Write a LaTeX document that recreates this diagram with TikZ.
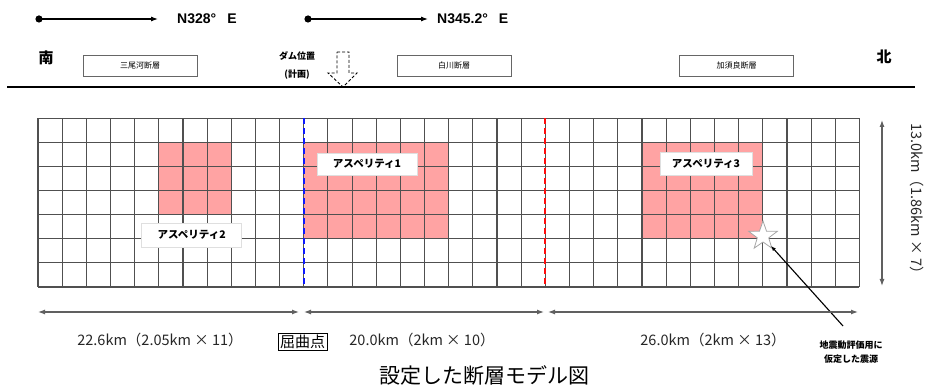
\documentclass[tikz,border=0pt]{standalone}
\usepackage{fontspec}
\setmainfont{Liberation Sans}
\newfontfamily\jp{Noto Sans CJK JP}
\usetikzlibrary{shapes.geometric,arrows.meta}
\definecolor{asppink}{HTML}{FFA3A3}
\definecolor{gridc}{HTML}{505050}
\definecolor{dimc}{HTML}{606060}
\definecolor{dashred}{rgb}{1,0.05,0.05}
\definecolor{dashblue}{rgb}{0.05,0.1,1}
\begin{document}
\begin{tikzpicture}[x=1pt,y=-1pt,
  gridline/.style={draw=gridc,line width=1.1pt},
  aspfill/.style={fill=asppink},
  asplabel/.style={fill=white,draw=gray!25,line width=0.6pt,font=\jp\bfseries\fontsize{10.5}{12}\selectfont,inner sep=0pt},
  faultbox/.style={draw=gray!80!black,line width=0.8pt,minimum width=114pt,minimum height=21pt,inner sep=0pt,font=\jp\fontsize{8}{9}\selectfont},
  dimline/.style={draw=dimc,line width=1.2pt,{Latex[length=7pt,width=5pt]}-{Latex[length=7pt,width=5pt]}},
  dirarrow/.style={draw=black,line width=1.1pt,-{Latex[length=7pt,width=5pt]}},
  dimtext/.style={font=\jp\fontsize{14.5}{16}\selectfont,text=black!85,inner sep=0pt},
  kinkline/.style={line width=2pt,dash pattern=on 6pt off 4pt},
  plain/.style={inner sep=0pt}]
\useasboundingbox (0,0) rectangle (926,387);

% direction arrows
\fill (39,19) circle (3.6pt);
\coordinate (d1s) at (39,19);
\node[plain,anchor=west,font=\bfseries\fontsize{14}{16}\selectfont] (d1t) at (177,19) {N328°\hspace{11pt}E};
\coordinate (d1e) at (158,19);
\draw[dirarrow] (d1s) -- (d1e);
\fill (308,19) circle (3.6pt);
\coordinate (d2s) at (308,19);
\node[plain,anchor=west,font=\bfseries\fontsize{14}{16}\selectfont] (d2t) at (437,19) {N345.2°\hspace{11pt}E};
\coordinate (d2e) at (428,19);
\draw[dirarrow] (d2s) -- (d2e);

% south / north
\node[plain,font=\jp\bfseries\fontsize{15}{16}\selectfont] (south) at (46,58) {南};
\node[plain,font=\jp\bfseries\fontsize{15}{16}\selectfont] (north) at (884,57) {北};

% fault name boxes
\node[faultbox] (f1) at (140,65.5) {三尾河断層};
\node[faultbox] (f2) at (454,65.5) {白川断層};
\node[faultbox] (f3) at (736.5,65.5) {加須良断層};

% dam
\node[plain,font=\jp\bfseries\fontsize{9}{10}\selectfont] (dam1) at (297,56) {ダム位置};
\node[plain,font=\jp\bfseries\fontsize{9}{10}\selectfont] (dam2) at (297,75) {(計画)};
\draw[line width=0.9pt,dash pattern=on 3pt off 2pt] (337,52) -- (349,52) -- (349,73) -- (357,73) -- (343,87) -- (328,73) -- (337,73) -- cycle;

% ground line
\draw[line width=1.6pt] (7,87) -- (915,87);

% grid
\begin{scope}[shift={(38,118.5)},x=24.16pt,y=-24.07pt]
  \fill[aspfill] (5,1) rectangle (8,4);
  \fill[aspfill] (11,1) rectangle (17,5);
  \fill[aspfill] (25,1) rectangle (30,5);
  \foreach \i in {0,...,34} {\draw[gridline] (\i,0) -- (\i,7);}
  \foreach \j in {0,...,7} {\draw[gridline] (0,\j) -- (34,\j);}
\end{scope}
\coordinate (bt) at (303.8,118.5);
\coordinate (bb) at (303.8,287);
\coordinate (rt) at (545.4,118.5);
\coordinate (rb) at (545.4,287);
\draw[kinkline,draw=dashblue] (bt) -- (bb);
\draw[kinkline,draw=dashred] (rt) -- (rb);

% asperity labels
\node[asplabel,minimum width=100pt,minimum height=24pt] (a2) at (191.7,235) {アスペリティ2};
\node[asplabel,minimum width=100pt,minimum height=22pt] (a1) at (367,164) {アスペリティ1};
\node[asplabel,minimum width=92pt,minimum height=23pt] (a3) at (706,163.5) {アスペリティ3};

% star (hypocenter)
\node[star,star points=5,star point ratio=2.5,minimum size=30pt,inner sep=0pt,draw=gray!70,line width=0.8pt,fill=white] (hypo) at (763,236) {};
\node[plain,align=center,font=\jp\bfseries\fontsize{9}{14}\selectfont] (ann) at (851,352) {地震動評価用に\\仮定した震源};
\coordinate (annp) at (843,326);
\coordinate (annq) at (771,246);
\draw[line width=1.1pt,-{Latex[length=5pt,width=4pt]}] (annp) -- (annq);

% vertical dimension
\coordinate (v1) at (882,120);
\coordinate (v2) at (882,286);
\draw[dimline] (v1) -- (v2);
\node[dimtext,rotate=-90] (vt) at (917,202) {13.0km（1.86km × 7）};

% horizontal dimensions
\coordinate (h1a) at (38,312);
\coordinate (h1b) at (299,312);
\coordinate (h2a) at (304,312);
\coordinate (h2b) at (544,312);
\coordinate (h3a) at (548,312);
\coordinate (h3b) at (858,312);
\draw[dimline] (h1a) -- (h1b);
\draw[dimline] (h2a) -- (h2b);
\draw[dimline] (h3a) -- (h3b);
\node[dimtext] (l1) at (160,340) {22.6km（2.05km × 11）};
\node[dimtext] (l2) at (422,340) {20.0km（2km × 10）};
\node[dimtext] (l3) at (713,340) {26.0km（2km × 13）};
\node[draw,line width=1pt,inner sep=2pt,font=\jp\fontsize{15}{16}\selectfont] (kink) at (302.5,342) {屈曲点};

% title
\node[plain,font=\jp\fontsize{21}{24}\selectfont] (title) at (484,375) {設定した断層モデル図};
\end{tikzpicture}
\end{document}
